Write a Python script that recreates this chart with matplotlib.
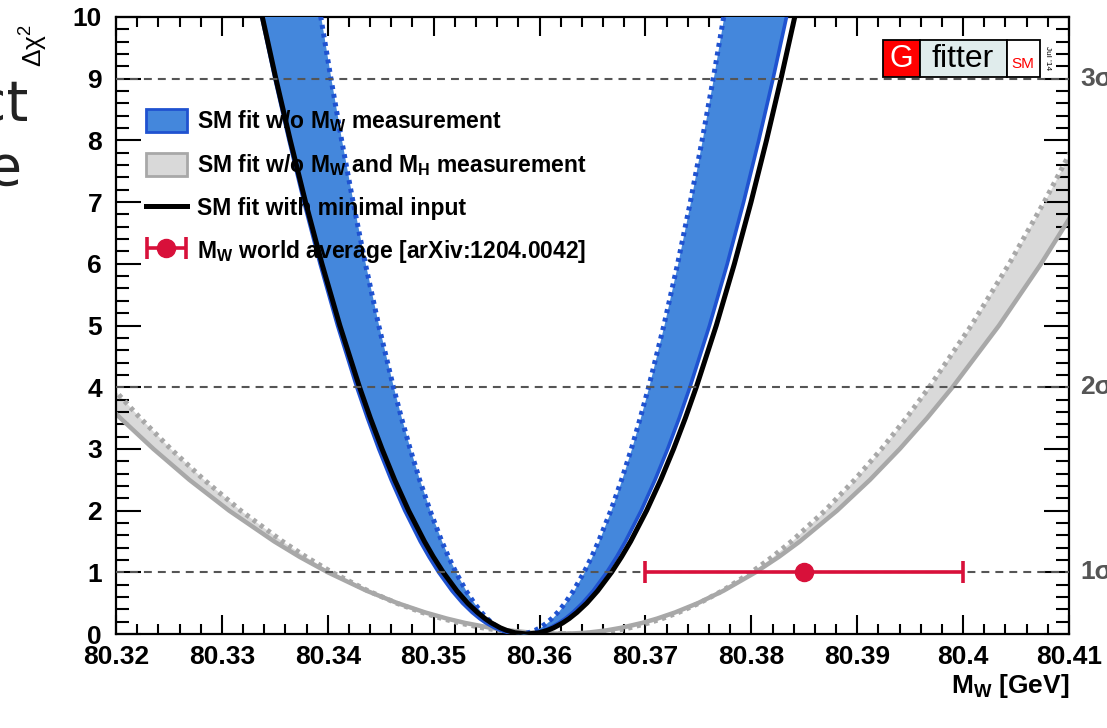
import matplotlib
matplotlib.use("Agg")
import matplotlib.pyplot as plt
from matplotlib.patches import Patch, Rectangle
from matplotlib.lines import Line2D
from matplotlib.legend_handler import HandlerErrorbar

plt.rcParams['font.family'] = ['Liberation Sans', 'DejaVu Sans']
plt.rcParams['mathtext.fontset'] = 'custom'
plt.rcParams['mathtext.rm'] = 'Liberation Sans'
plt.rcParams['mathtext.bf'] = 'Liberation Sans:bold'
plt.rcParams['mathtext.it'] = 'Liberation Sans:italic'

dchi2 = [0, 0.02, 0.06, 0.1, 0.18, 0.25, 0.35, 0.5, 0.7, 1, 1.25, 1.5, 2, 2.5, 3, 3.5,
         4, 5, 6, 7, 8, 9, 10, 11]

# SM fit with minimal input (black)
black_left = [80.3588, 80.35768, 80.35687, 80.35630, 80.35545, 80.35485, 80.35413, 80.35321,
              80.35219, 80.35090, 80.34997, 80.34913, 80.34763, 80.34631, 80.34512, 80.34402,
              80.34300, 80.34114, 80.33945, 80.33790, 80.33646, 80.33510, 80.33382, 80.33260]
black_right = [80.3588, 80.35993, 80.36076, 80.36133, 80.36219, 80.36280, 80.36353, 80.36446,
               80.36549, 80.36680, 80.36774, 80.36860, 80.37011, 80.37145, 80.37266, 80.37377,
               80.37480, 80.37669, 80.37840, 80.37997, 80.38143, 80.38280, 80.38410, 80.38533]

# SM fit w/o MW (blue band: solid outer edge, dotted inner edge)
blue_solid_left = [80.3582, 80.35711, 80.35631, 80.35576, 80.35492, 80.35434, 80.35363, 80.35273,
                   80.35173, 80.35047, 80.34956, 80.34873, 80.34727, 80.34598, 80.34481, 80.34374,
                   80.34274, 80.34092, 80.33927, 80.33775, 80.33634, 80.33501, 80.33376, 80.33256]
blue_solid_right = [80.3585, 80.35961, 80.36042, 80.36098, 80.36183, 80.36243, 80.36314, 80.36405,
                    80.36507, 80.36635, 80.36728, 80.36811, 80.36960, 80.37091, 80.37210, 80.37319,
                    80.37420, 80.37605, 80.37773, 80.37927, 80.38070, 80.38205, 80.38332, 80.38454]
blue_dot_left = [80.3580, 80.35717, 80.35656, 80.35613, 80.35550, 80.35505, 80.35451, 80.35383,
                 80.35306, 80.35210, 80.35140, 80.35077, 80.34966, 80.34867, 80.34778, 80.34696,
                 80.34620, 80.34481, 80.34355, 80.34239, 80.34131, 80.34030, 80.33934, 80.33843]
blue_dot_right = [80.3581, 80.35896, 80.35959, 80.36003, 80.36069, 80.36115, 80.36171, 80.36241,
                  80.36320, 80.36420, 80.36492, 80.36557, 80.36673, 80.36775, 80.36867, 80.36951,
                  80.37030, 80.37174, 80.37304, 80.37424, 80.37535, 80.37640, 80.37739, 80.37833]

# SM fit w/o MW and MH (gray band)
gray_solid_left = [80.3625, 80.35932, 80.35699, 80.35539, 80.35295, 80.35125, 80.34919, 80.34659,
                   80.34368, 80.34000, 80.33734, 80.33494, 80.33068, 80.32692, 80.32353, 80.32041,
                   80.31750, 80.31219, 80.30739, 80.30297, 80.29886, 80.29500, 80.29135, 80.28788]
gray_solid_right = [80.3618, 80.36443, 80.36636, 80.36768, 80.36969, 80.37110, 80.37280, 80.37495,
                    80.37736, 80.38040, 80.38260, 80.38458, 80.38810, 80.39121, 80.39402, 80.39660,
                    80.39900, 80.40339, 80.40736, 80.41101, 80.41441, 80.41760, 80.42062, 80.42349]
gray_dot_left = [80.3612, 80.35826, 80.35611, 80.35462, 80.35238, 80.35080, 80.34890, 80.34649,
                 80.34380, 80.34040, 80.33795, 80.33573, 80.33178, 80.32831, 80.32517, 80.32229,
                 80.31960, 80.31469, 80.31025, 80.30617, 80.30237, 80.29880, 80.29543, 80.29221]
gray_dot_right = [80.3632, 80.36558, 80.36732, 80.36851, 80.37033, 80.37160, 80.37314, 80.37508,
                  80.37726, 80.38000, 80.38198, 80.38378, 80.38696, 80.38976, 80.39230, 80.39463,
                  80.39680, 80.40077, 80.40435, 80.40765, 80.41072, 80.41360, 80.41633, 80.41892]

# MW world average
mw_avg = 80.385
mw_err = 0.015
mw_level = 1

sigma_levels = [1, 4, 9]
sigma_labels = ['1σ', '2σ', '3σ']

xticks = [80.32, 80.33, 80.34, 80.35, 80.36, 80.37, 80.38, 80.39, 80.40, 80.41]
xticklabels = ['80.32', '80.33', '80.34', '80.35', '80.36', '80.37', '80.38', '80.39', '80.4', '80.41']

blue_fill = '#4487dc'
blue_line = '#1f52d0'
gray_fill = '#d9d9d9'
gray_line = '#a8a8a8'
red = '#d8103a'


def full_curve(left, right):
    return left[::-1] + right, dchi2[::-1] + dchi2


W, H = 1107, 728
fig = plt.figure(figsize=(W / 100, H / 100), dpi=100)
ax = fig.add_axes([116 / W, 1 - 634 / H, (1069 - 116) / W, (634 - 17) / H])

dots = (0, (0.8, 0.95))

# gray band
ax.fill_betweenx(dchi2, gray_solid_left, gray_dot_left, color=gray_fill, lw=0, zorder=1)
ax.fill_betweenx(dchi2, gray_dot_right, gray_solid_right, color=gray_fill, lw=0, zorder=1)
x, y = full_curve(gray_solid_left, gray_solid_right)
ax.plot(x, y, color=gray_line, lw=3.2, zorder=2)
x, y = full_curve(gray_dot_left, gray_dot_right)
ax.plot(x, y, color=gray_line, lw=3.6, ls=dots, zorder=2)

# blue band
ax.fill_betweenx(dchi2, blue_solid_left, blue_dot_left, color=blue_fill, lw=0, zorder=3)
ax.fill_betweenx(dchi2, blue_dot_right, blue_solid_right, color=blue_fill, lw=0, zorder=3)
x, y = full_curve(blue_solid_left, blue_solid_right)
ax.plot(x, y, color=blue_line, lw=2.6, zorder=4)
x, y = full_curve(blue_dot_left, blue_dot_right)
ax.plot(x, y, color=blue_line, lw=3.6, ls=dots, zorder=4)

# black line
x, y = full_curve(black_left, black_right)
ax.plot(x, y, color='black', lw=3.6, zorder=5)

# sigma lines
for lev, lab in zip(sigma_levels, sigma_labels):
    ax.axhline(lev, color='#555555', lw=1.5, ls=(0, (3.8, 2.9)), zorder=6)
    ax.text(1.012, lev, lab, transform=ax.get_yaxis_transform(), ha='left', va='center',
            fontsize=19, fontweight='bold', color='#555555', clip_on=False)

# world average
wa = ax.errorbar([mw_avg], [mw_level], xerr=[mw_err], fmt='o', color=red, ms=13, elinewidth=2.6,
                 capsize=8, capthick=2.6, zorder=7)

ax.set_xlim(80.32, 80.41)
ax.set_ylim(0, 10)
ax.set_xticks(xticks)
ax.set_xticklabels(xticklabels)
ax.set_yticks(range(0, 11))
ax.set_xticks([80.32 + 0.002 * i for i in range(46)], minor=True)
ax.set_yticks([0.2 * i for i in range(51)], minor=True)
ax.tick_params(which='both', direction='in', top=True, right=True, width=1.5,
               labelsize=19, colors='black')
ax.tick_params(axis='x', which='major', length=14, pad=8)
ax.tick_params(axis='x', which='minor', length=7)
ax.tick_params(axis='y', which='major', length=18, pad=10)
ax.tick_params(axis='y', which='minor', length=9.5)
for lab in ax.get_xticklabels() + ax.get_yticklabels():
    lab.set_fontweight('bold')
for sp in ax.spines.values():
    sp.set_linewidth(1.6)

ax.text(1.0, -0.062, r'M$_{\mathbf{W}}$ [GeV]', transform=ax.transAxes, ha='right', va='top',
        fontsize=19, fontweight='bold')
fig.text(34 / W, 1 - 46 / H, r'Δχ$^{2}$', rotation=90, ha='center', va='center', fontsize=19)

# legend
handles = [
    Patch(facecolor=blue_fill, edgecolor=blue_line, lw=2),
    Patch(facecolor=gray_fill, edgecolor=gray_line, lw=2),
    Line2D([], [], color='black', lw=3.6),
    wa,
]
labels = [
    r'SM fit w/o M$_{\mathbf{W}}$ measurement',
    r'SM fit w/o M$_{\mathbf{W}}$ and M$_{\mathbf{H}}$ measurement',
    'SM fit with minimal input',
    r'M$_{\mathbf{W}}$ world average [arXiv:1204.0042]',
]
leg = ax.legend(handles, labels, loc='upper left', bbox_to_anchor=(0.031, 0.852), frameon=False,
                borderpad=0, borderaxespad=0, handlelength=1.8, handleheight=1.2,
                handletextpad=0.45, labelspacing=0.78, prop={'size': 16.5, 'weight': 'bold'},
                handler_map={type(wa): HandlerErrorbar(xerr_size=0.85)})
leg.set_zorder(8)

# Gfitter logo
def fig_rect(x0, y0, x1, y1, fc):
    r = Rectangle((x0 / W, 1 - y1 / H), (x1 - x0) / W, (y1 - y0) / H, transform=fig.transFigure,
                  facecolor=fc, edgecolor='black', lw=1.3, zorder=20)
    fig.add_artist(r)

fig_rect(883, 40, 920, 77, '#ff0000')
fig_rect(920, 40, 1007, 77, '#e0ecec')
fig_rect(1007, 40, 1040, 77, 'white')
fig.text(901 / W, 1 - 59 / H, 'G', color='white', fontsize=22, ha='center', va='center', zorder=21)
fig.text(963 / W, 1 - 59 / H, 'fitter', color='black', fontsize=23, ha='center', va='center', zorder=21)
fig.text(1023 / W, 1 - 64 / H, 'SM', color='#ff0000', fontsize=11, ha='center', va='center', zorder=21)
fig.text(1048 / W, 1 - 58 / H, "Jul '14", color='black', fontsize=6, rotation=-90,
         ha='center', va='center', zorder=21)

# slide text at the left edge
fig.text(28 / W, 1 - 120 / H, 'ct', ha='right', va='baseline', fontsize=40, color='#222222',
         family='DejaVu Sans')
fig.text(22 / W, 1 - 185 / H, 'e', ha='right', va='baseline', fontsize=40, color='#222222',
         family='DejaVu Sans')

fig.savefig('out.png', dpi=100)
